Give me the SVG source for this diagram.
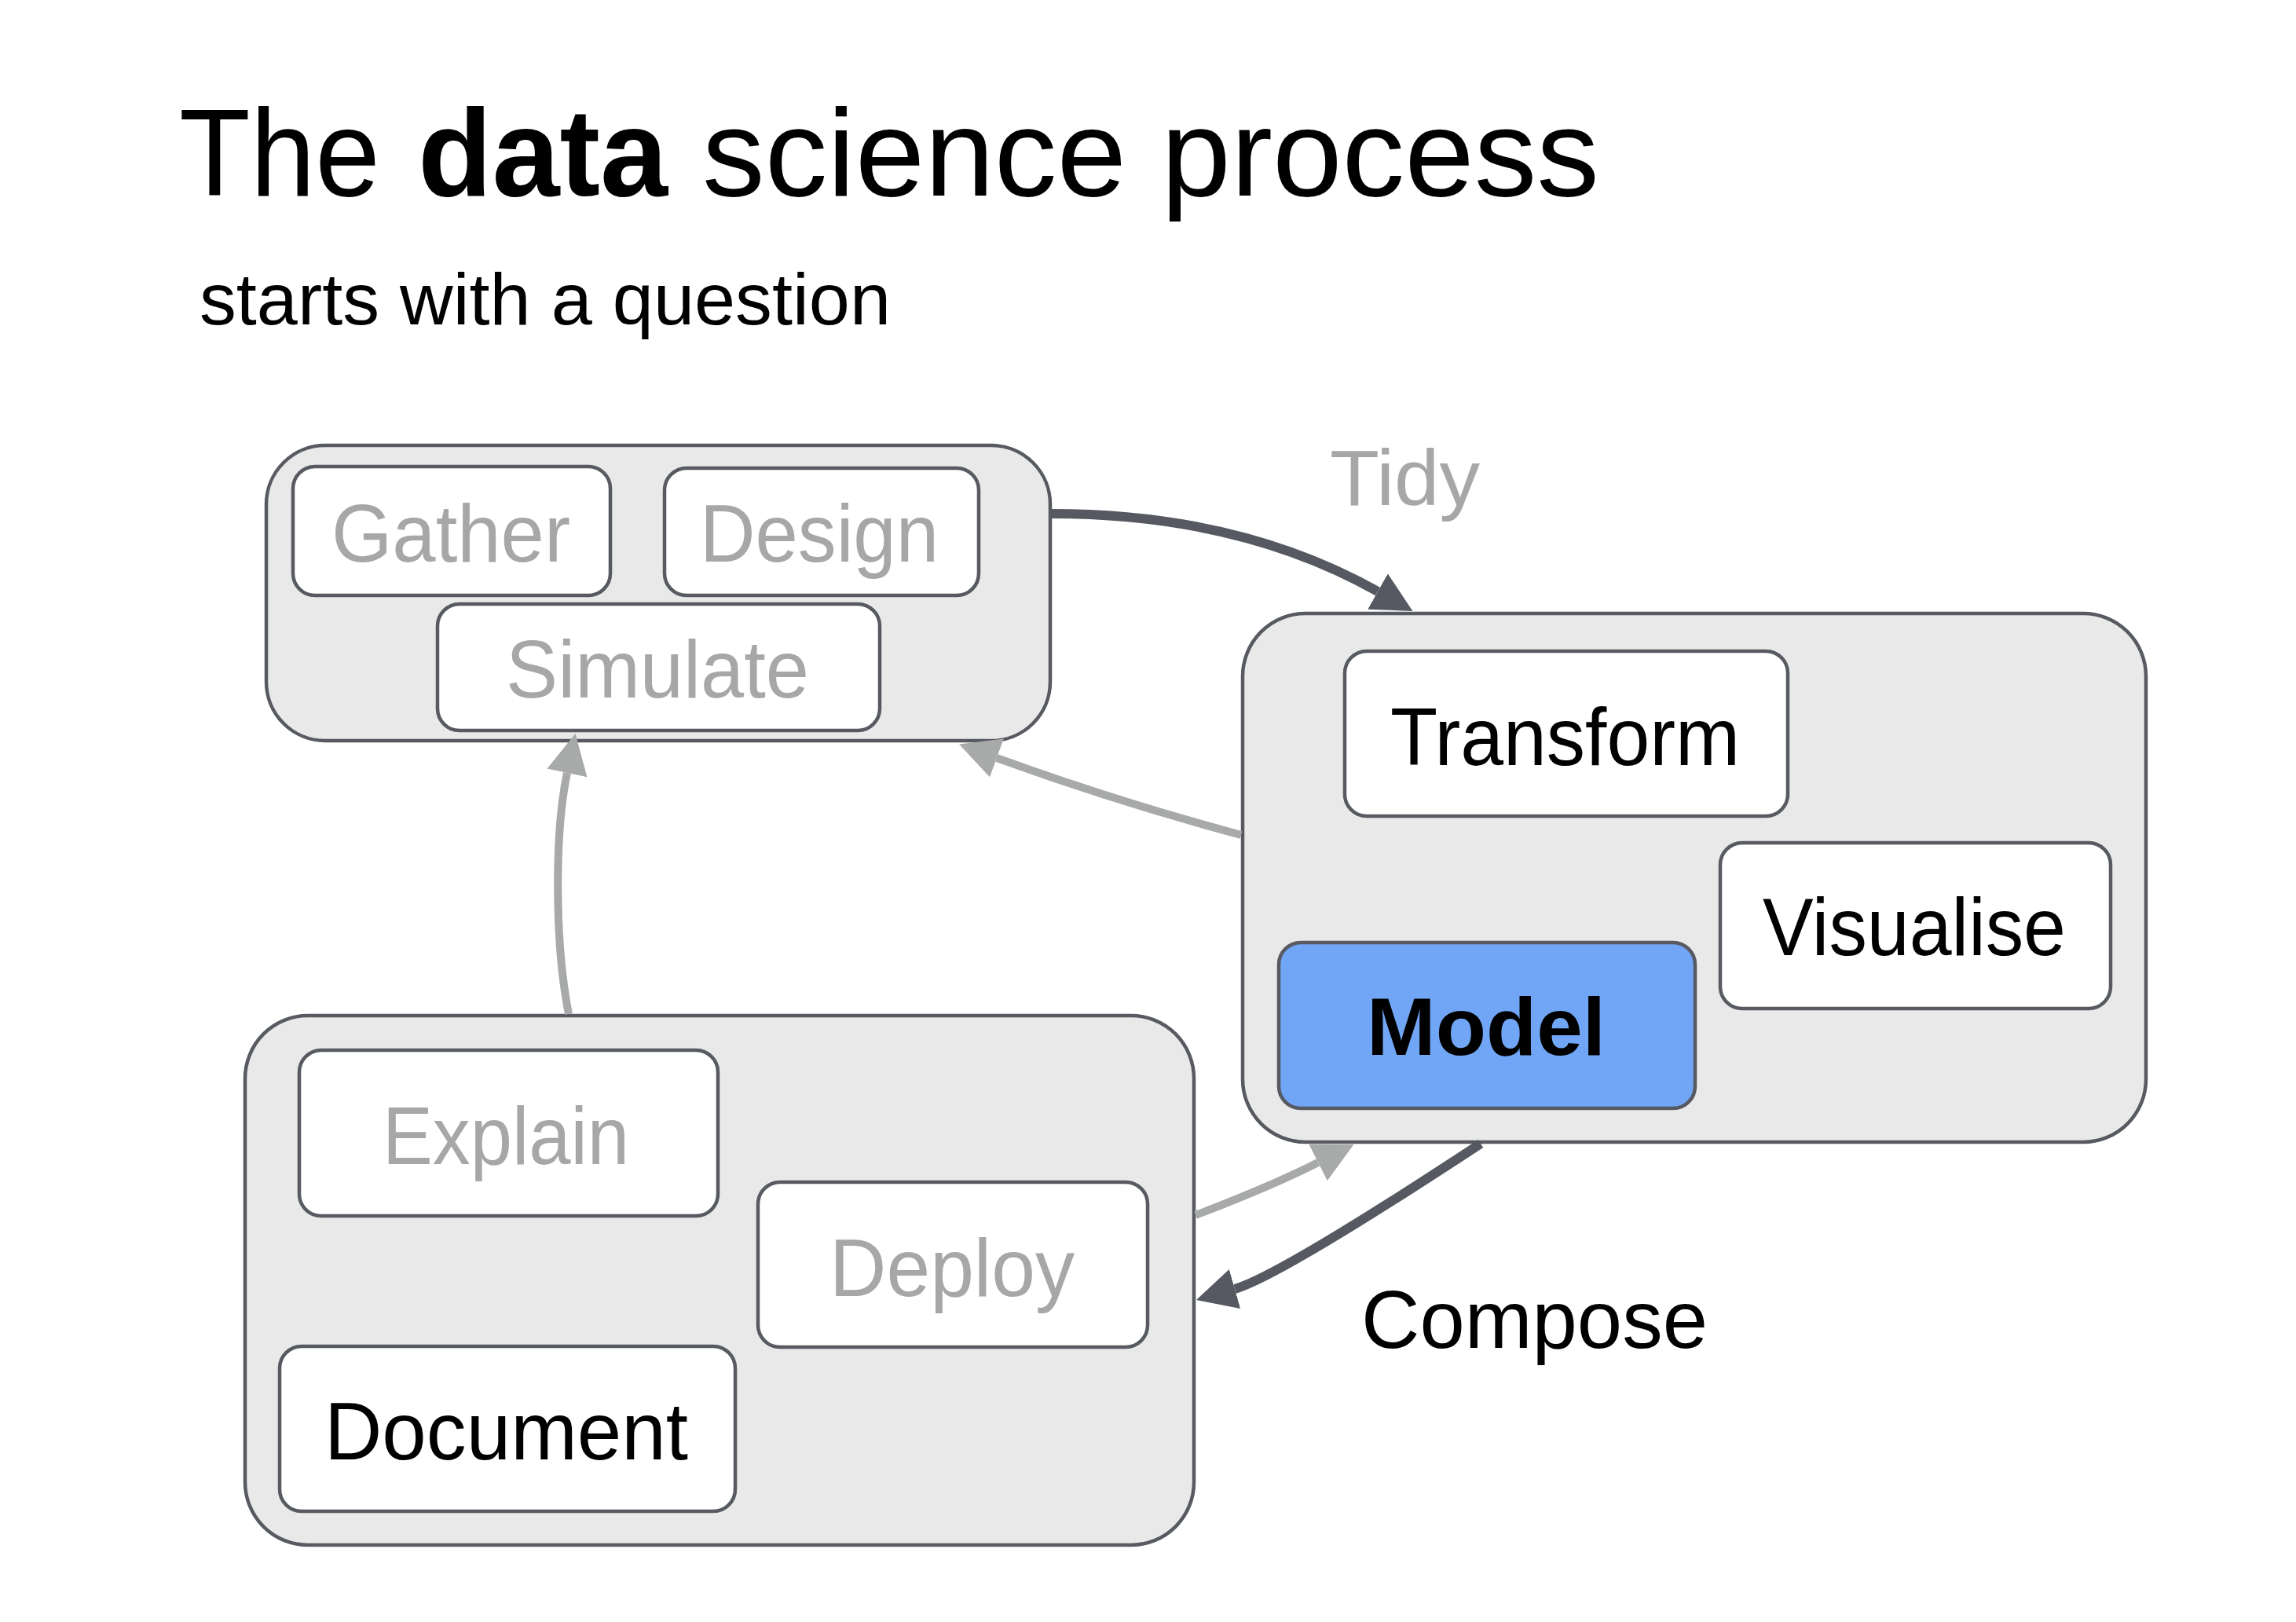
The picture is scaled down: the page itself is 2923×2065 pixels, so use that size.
<svg xmlns="http://www.w3.org/2000/svg" width="2923" height="2065" viewBox="0 0 2923 2065">
<style>
  text { font-family: "Liberation Sans", Arial, sans-serif; }
  .group { fill: #e9e9e9; stroke: #575a61; stroke-width: 4.5; }
  .box { fill: #ffffff; stroke: #575a61; stroke-width: 4.5; }
  .box.model { fill: #71a6f6; }
  .lbl { font-size: 104px; fill: #000000; }
  .lbl.dim { fill: #a7a7a7; }
  .lbl.bold { font-weight: bold; }
  .dark { fill: none; stroke: #565961; stroke-width: 12; }
  .light { fill: none; stroke: #a8a9a9; stroke-width: 10; }
</style>
<defs>
  <marker id="headDark" markerUnits="userSpaceOnUse" markerWidth="52" markerHeight="52" refX="0" refY="26" orient="auto" viewBox="0 0 52 52">
    <path d="M0,0 L51,26 L0,52 Z" fill="#565961"/>
  </marker>
  <marker id="headLight" markerUnits="userSpaceOnUse" markerWidth="52" markerHeight="52" refX="0" refY="26" orient="auto" viewBox="0 0 52 52">
    <path d="M0,0 L51,26 L0,52 Z" fill="#a8a9a9"/>
  </marker>
</defs>
<rect width="2923" height="2065" fill="#ffffff"/>

<g id="title">
  <text x="232" y="249" font-size="157"><tspan x="228" textLength="256" lengthAdjust="spacingAndGlyphs">The</tspan><tspan x="532" font-weight="bold" textLength="318" lengthAdjust="spacingAndGlyphs">data</tspan><tspan x="894" textLength="1142" lengthAdjust="spacingAndGlyphs">science process</tspan></text>
  <text x="254" y="413" font-size="93" textLength="880" lengthAdjust="spacingAndGlyphs">starts with a question</text>
</g>

<g id="group-gather">
  <rect class="group" x="339" y="567" width="998" height="376" rx="75" ry="75"/>
  <g id="node-gather">
    <rect class="box" x="373" y="594" width="404" height="164" rx="28"/>
    <text class="lbl dim" x="422" y="715" textLength="304" lengthAdjust="spacingAndGlyphs">Gather</text>
  </g>
  <g id="node-design">
    <rect class="box" x="846" y="596" width="400" height="162" rx="28"/>
    <text class="lbl dim" x="891" y="715" textLength="304" lengthAdjust="spacingAndGlyphs">Design</text>
  </g>
  <g id="node-simulate">
    <rect class="box" x="557" y="769" width="563" height="161" rx="28"/>
    <text class="lbl dim" x="644" y="888" textLength="386" lengthAdjust="spacingAndGlyphs">Simulate</text>
  </g>
</g>

<g id="group-explore">
  <rect class="group" x="1582" y="781" width="1150" height="673" rx="80" ry="80"/>
  <g id="node-transform">
    <rect class="box" x="1712" y="829" width="564" height="210" rx="28"/>
    <text class="lbl" x="1770" y="974" textLength="445" lengthAdjust="spacingAndGlyphs">Transform</text>
  </g>
  <g id="node-visualise">
    <rect class="box" x="2190" y="1073" width="497" height="211" rx="28"/>
    <text class="lbl" x="2244" y="1216" textLength="386" lengthAdjust="spacingAndGlyphs">Visualise</text>
  </g>
  <g id="node-model">
    <rect class="box model" x="1628" y="1200" width="530" height="211" rx="28"/>
    <text class="lbl bold" x="1740" y="1343" textLength="304" lengthAdjust="spacingAndGlyphs">Model</text>
  </g>
</g>

<g id="group-communicate">
  <rect class="group" x="312" y="1293" width="1208" height="674" rx="80" ry="80"/>
  <g id="node-explain">
    <rect class="box" x="381" y="1337" width="533" height="211" rx="28"/>
    <text class="lbl dim" x="487" y="1482" textLength="314" lengthAdjust="spacingAndGlyphs">Explain</text>
  </g>
  <g id="node-deploy">
    <rect class="box" x="965" y="1505" width="496" height="210" rx="28"/>
    <text class="lbl dim" x="1056" y="1650" textLength="312" lengthAdjust="spacingAndGlyphs">Deploy</text>
  </g>
  <g id="node-document">
    <rect class="box" x="356" y="1714" width="580" height="210" rx="28"/>
    <text class="lbl" x="413" y="1858" textLength="463" lengthAdjust="spacingAndGlyphs">Document</text>
  </g>
</g>

<g id="connectors">
  <path class="dark" d="M1339,654 Q1578,654 1754,753" marker-end="url(#headDark)"/>
  <path class="light" d="M1580,1063 Q1420,1020 1269,965" marker-end="url(#headLight)"/>
  <path class="light" d="M724,1291 C706,1200 706,1060 722,984" marker-end="url(#headLight)"/>
  <path class="light" d="M1522,1547 Q1619,1510 1678,1480" marker-end="url(#headLight)"/>
  <path class="dark" d="M1885,1456 Q1628,1625 1572,1641" marker-end="url(#headDark)"/>
</g>

<g id="labels">
  <text x="1693" y="643" font-size="100" fill="#a7a7a7" textLength="191" lengthAdjust="spacingAndGlyphs">Tidy</text>
  <text x="1733" y="1716" font-size="104" fill="#000000" textLength="441" lengthAdjust="spacingAndGlyphs">Compose</text>
</g>
</svg>
